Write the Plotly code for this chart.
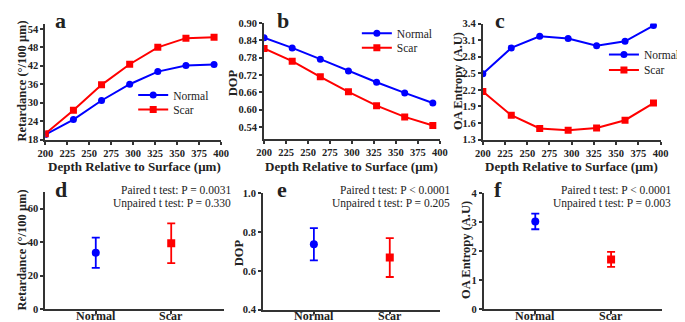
import plotly.graph_objects as go

W, H = 685, 322

# ---------------- data ----------------
depth = [200, 232, 264, 296, 328, 360, 392]
depth_ticks = [200, 225, 250, 275, 300, 325, 350, 375, 400]
ret_normal = [19.6, 24.5, 30.7, 36.0, 40.1, 42.1, 42.4]
ret_scar = [19.9, 27.5, 35.8, 42.5, 48.0, 51.0, 51.3]
dop_normal = [0.849, 0.814, 0.775, 0.734, 0.695, 0.658, 0.623]
dop_scar = [0.812, 0.768, 0.714, 0.662, 0.614, 0.575, 0.545]
ent_normal = [2.49, 2.96, 3.17, 3.13, 3.00, 3.08, 3.365]
ent_scar = [2.17, 1.74, 1.50, 1.47, 1.51, 1.65, 1.96]

groups = ["Normal", "Scar"]
ret_mean = [33.7, 39.4]
ret_sd = [9.0, 11.9]
dop_mean = [0.738, 0.669]
dop_sd = [0.083, 0.100]
ent_mean = [3.03, 1.72]
ent_sd = [0.27, 0.26]

stats_d = ["Paired t test: P = 0.0031", "Unpaired t test: P = 0.330"]
stats_e = ["Paired t test: P < 0.0001", "Unpaired t test: P = 0.205"]
stats_f = ["Paired t test: P < 0.0001", "Unpaired t test: P = 0.003"]

BLUE = "#0000FF"
RED = "#FF0000"
FONT = "Liberation Serif"
AX = "#333333"
TXT = "#222222"


def fx(p):
    return p / W


def fy(p):
    return 1 - p / H


fig = go.Figure()

# top row line panels; each legend item in its own legend box
top = [
    (ret_normal, ret_scar, "x", "y", "legend", "legend4"),
    (dop_normal, dop_scar, "x2", "y2", "legend2", "legend5"),
    (ent_normal, ent_scar, "x3", "y3", "legend3", "legend6"),
]
for n, s, xa, ya, lgn, lgs in top:
    fig.add_trace(go.Scatter(x=depth, y=n, mode="lines+markers", name="Normal",
                             line=dict(color=BLUE, width=2),
                             marker=dict(color=BLUE, size=7, symbol="circle"),
                             xaxis=xa, yaxis=ya, legend=lgn))
    fig.add_trace(go.Scatter(x=depth, y=s, mode="lines+markers", name="Scar",
                             line=dict(color=RED, width=2),
                             marker=dict(color=RED, size=7, symbol="square"),
                             xaxis=xa, yaxis=ya, legend=lgs))

# bottom row mean +/- sd panels
bottom = [
    (ret_mean, ret_sd, "x4", "y4"),
    (dop_mean, dop_sd, "x5", "y5"),
    (ent_mean, ent_sd, "x6", "y6"),
]
for m, sd, xa, ya in bottom:
    for i, (col, sym) in enumerate([(BLUE, "circle"), (RED, "square")]):
        fig.add_trace(go.Scatter(x=[i], y=[m[i]], mode="markers", showlegend=False,
                                 marker=dict(color=col, size=8, symbol=sym),
                                 error_y=dict(type="data", array=[sd[i]], visible=True,
                                              color=col, thickness=1.8, width=4),
                                 xaxis=xa, yaxis=ya))

tickfont = dict(family=FONT, size=10.5, color=TXT)
common = dict(showline=True, linecolor=AX, linewidth=2, ticks="outside",
              tickcolor=AX, tickwidth=1.5, ticklen=3, showgrid=False,
              zeroline=False, tickfont=tickfont)

layout = dict(
    width=W, height=H, margin=dict(l=0, r=0, t=0, b=0),
    paper_bgcolor="white", plot_bgcolor="white",
    font=dict(family=FONT, color=TXT),
)

# domains in pixels: (x0, x1, ytop, ybottom)
doms = {
    1: (30, 210, 11.7, 131),
    2: (254, 434, 10.4, 130),
    3: (478, 660, 11, 131),
    4: (30, 213, 185.3, 306.7),
    5: (253, 434, 186.7, 307.3),
    6: (479, 661, 186.7, 306.7),
}
yranges = {1: [18, 55.5], 2: [0.50, 0.90], 3: [1.3, 3.4],
           4: [0, 70], 5: [0.4, 1.0], 6: [0, 4]}
ytv = {1: [18, 24, 30, 36, 42, 48, 54],
       2: [0.54, 0.60, 0.66, 0.72, 0.78, 0.84, 0.90],
       3: [1.3, 1.6, 1.9, 2.2, 2.5, 2.8, 3.1, 3.4],
       4: [0, 20, 40, 60],
       5: [0.4, 0.6, 0.8, 1.0],
       6: [0, 1, 2, 3, 4]}
yfmt = {1: "%d", 2: "%.2f", 3: "%.1f", 4: "%d", 5: "%.1f", 6: "%d"}
xranges = {4: [-0.669, 1.70], 5: [-0.669, 1.66], 6: [-0.679, 1.666]}

for k in range(1, 7):
    x0, x1, yt, yb = doms[k]
    xn = "xaxis" if k == 1 else "xaxis%d" % k
    yn = "yaxis" if k == 1 else "yaxis%d" % k
    xa = dict(common, domain=[fx(x0), fx(x1)], anchor="y" if k == 1 else "y%d" % k)
    ya = dict(common, domain=[fy(yb), fy(yt)], anchor="x" if k == 1 else "x%d" % k,
              range=yranges[k], tickvals=ytv[k],
              ticktext=["<b>%s</b>" % (yfmt[k] % v) for v in ytv[k]])
    if k <= 3:
        xa.update(range=[200, 400], tickvals=depth_ticks,
                  ticktext=["<b>%d</b>" % v for v in depth_ticks])
    else:
        xa.update(range=xranges[k], tickvals=[0, 1], showticklabels=False, ticklen=2.5)
    layout[xn] = xa
    layout[yn] = ya


def leg(xp, yp, xanchor="left"):
    return dict(x=fx(xp), y=fy(yp), xanchor=xanchor, yanchor="middle",
                bgcolor="rgba(0,0,0,0)", borderwidth=0,
                font=dict(family=FONT, size=11.5, color=TXT),
                itemwidth=30, tracegroupgap=0)

layout["legend"] = leg(120, 85)
layout["legend4"] = leg(120, 100)
layout["legend2"] = leg(349, 21)
layout["legend5"] = leg(349, 36)
layout["legend3"] = leg(602, 43)
layout["legend6"] = leg(602, 59)

fig.update_layout(**layout)

ann = []


def text(x, y, s, size=12, bold=False, angle=0, xanchor="center", xref="paper"):
    ann.append(dict(x=fx(x) if xref == "paper" else x, y=fy(y), xref=xref, yref="paper",
                    showarrow=False,
                    text="<b>%s</b>" % s if bold else s, textangle=angle,
                    xanchor=xanchor, yanchor="middle",
                    font=dict(family=FONT, size=size, color=TXT)))

# panel letters
for lt, x, y in [("a", 46, 8), ("b", 273, 8), ("c", 496, 8),
                 ("d", 46, 183), ("e", 272, 183), ("f", 494, 183)]:
    text(x, y, lt, size=22, bold=True)

# x titles (top row)
for cx in [121, 344, 569]:
    text(cx, 159, "Depth Relative to Surface (μm)", size=13, bold=True)

# category labels (bottom row)
for xr in ["x4", "x5", "x6"]:
    for i, g in enumerate(groups):
        text(i, 313.5, g, size=12, bold=True, xref=xr)

# y titles
text(6, 70, "Retardance (°/100 μm)", size=12.5, bold=True, angle=-90)
text(222, 72, "DOP", size=12.5, bold=True, angle=-90)
text(452, 70, "OA Entropy (A.U)", size=12.5, bold=True, angle=-90)
text(6, 245, "Retardance (°/100 μm)", size=12.5, bold=True, angle=-90)
text(228, 248, "DOP", size=12.5, bold=True, angle=-90)
text(460, 245, "OA Entropy (A.U)", size=12.5, bold=True, angle=-90)

# stats text
for lines, xr in [(stats_d, 222), (stats_e, 446), (stats_f, 673)]:
    text(xr, 183, lines[0], size=11.5, xanchor="right")
    text(xr, 197, lines[1], size=11.5, xanchor="right")

fig.update_layout(annotations=ann)
fig.write_html("out.html")
